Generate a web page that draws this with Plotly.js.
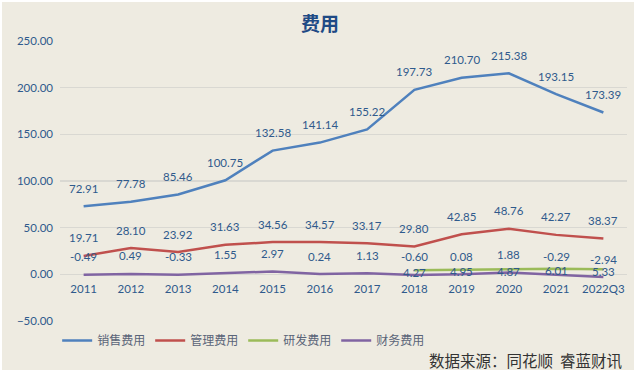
<!DOCTYPE html>
<html>
<head>
<meta charset="utf-8">
<script src="https://cdn.plot.ly/plotly-3.0.1.min.js"></script>
<style>
html,body{margin:0;padding:0;background:#ffffff;width:640px;height:373px;overflow:hidden;}
#chart{position:absolute;left:2px;top:2px;width:632px;height:368px;}
</style>
</head>
<body>
<div id="chart"></div>
<script>
var categories = ['2011','2012','2013','2014','2015','2016','2017','2018','2019','2020','2021','2022Q3'];
var sales = [72.91, 77.78, 85.46, 100.75, 132.58, 141.14, 155.22, 197.73, 210.70, 215.38, 193.15, 173.39];
var admin = [19.71, 28.10, 23.92, 31.63, 34.56, 34.57, 33.17, 29.80, 42.85, 48.76, 42.27, 38.37];
var rnd = [null, null, null, null, null, null, null, 4.27, 4.95, 4.87, 6.01, 5.33];
var finance = [-0.49, 0.49, -0.33, 1.55, 2.97, 0.24, 1.13, -0.60, 0.08, 1.88, -0.29, -2.94];
var seriesNames = ['销售费用', '管理费用', '研发费用', '财务费用'];
var seriesColors = ['#4F81BD', '#C0504D', '#9BBB59', '#8064A2'];
var seriesData = [sales, admin, rnd, finance];
var labelShift = [18, 18, -2, 18];

var traces = seriesData.map(function (d, i) {
  return {
    x: categories, y: d, type: 'scatter', mode: 'lines',
    name: seriesNames[i],
    line: {color: seriesColors[i], width: 2.5},
    connectgaps: false, hoverinfo: 'skip'
  };
});

var annotations = [];
seriesData.forEach(function (d, i) {
  d.forEach(function (v, j) {
    if (v === null) return;
    annotations.push({
      x: j, y: v, xref: 'x', yref: 'y',
      text: v.toFixed(2), showarrow: false, yshift: labelShift[i],
      font: {family: 'Lato, sans-serif', size: 11.5, color: '#2F5A8C'}
    });
  });
});
annotations.push({
  xref: 'paper', yref: 'paper', x: 0.995, y: -0.139, xanchor: 'right', yanchor: 'middle',
  text: '数据来源：同花顺&nbsp;&nbsp;睿蓝财讯', showarrow: false,
  font: {family: '"Noto Sans CJK SC", sans-serif', size: 15.5, color: '#333333'}
});

var layout = {
  width: 632, height: 368,
  paper_bgcolor: '#EEEBE1', plot_bgcolor: 'rgba(0,0,0,0)',
  margin: {l: 58, r: 7, t: 39, b: 49, autoexpand: false},
  title: {text: '<b>费用</b>', x: 0.503, xanchor: 'center', y: 0.94, yanchor: 'middle',
    font: {family: '"Noto Sans CJK SC", sans-serif', size: 19, color: '#1F4A85'}},
  showlegend: true,
  legend: {orientation: 'h', x: -0.005, y: -0.018, xanchor: 'left', yanchor: 'top',
    font: {family: '"Noto Sans CJK SC", sans-serif', size: 12, color: '#5A6478'},
    bgcolor: 'rgba(0,0,0,0)', itemwidth: 30, tracegroupgap: 0},
  xaxis: {
    type: 'category', range: [-0.5, 11.5], anchor: 'free', position: 50 / 300,
    showgrid: false, showline: false, zeroline: false, ticks: '',
    ticklabelstandoff: 6,
    tickfont: {family: 'Lato, sans-serif', size: 11.5, color: '#2F5A8C'}
  },
  yaxis: {
    range: [-50, 250], dtick: 50, tick0: 0, tickformat: '.2f',
    showgrid: true, gridcolor: '#D9D8D2', gridwidth: 1.2, zeroline: false, showline: false,
    ticks: '', ticklabelstandoff: 6,
    tickfont: {family: 'Lato, sans-serif', size: 11.5, color: '#2F5A8C'}
  },
  annotations: annotations
};

Plotly.newPlot('chart', traces, layout, {displayModeBar: false, staticPlot: true});
</script>
</body>
</html>
